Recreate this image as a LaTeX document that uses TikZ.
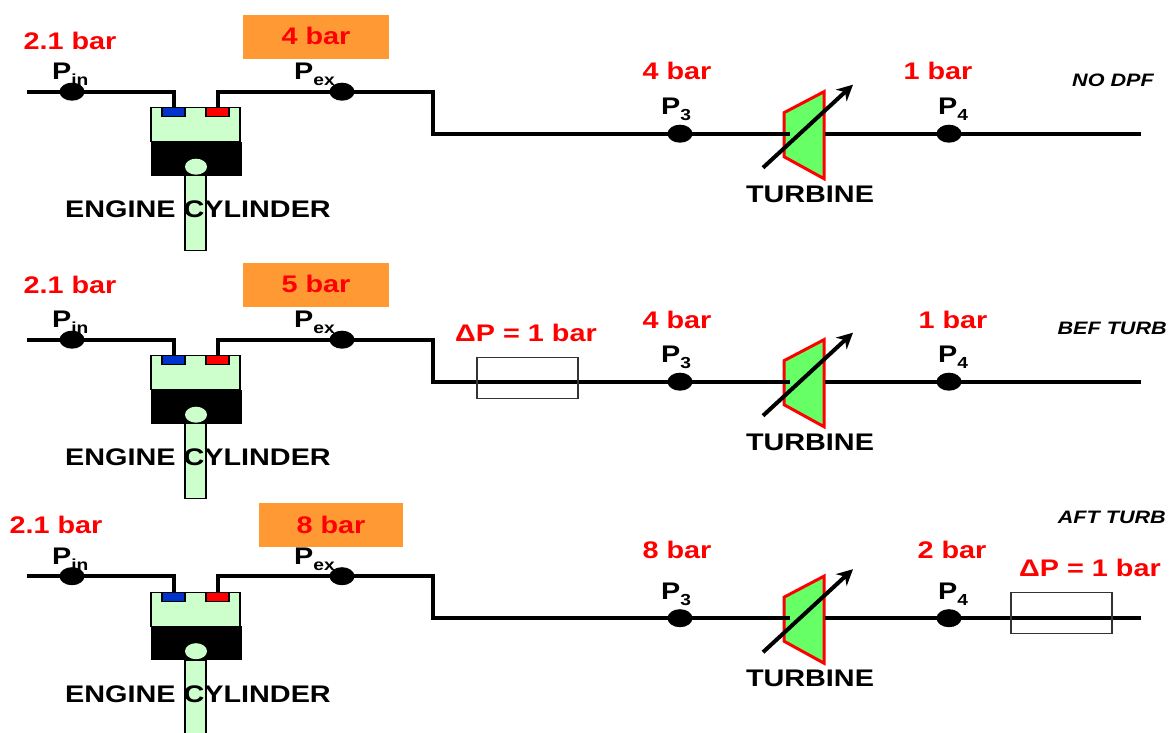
\documentclass[tikz,border=0pt]{standalone}
\usepackage{fontspec}
\setmainfont{Liberation Sans}[FakeStretch=1.2]
\usetikzlibrary{arrows.meta,shapes.geometric}
\definecolor{barred}{HTML}{FF0000}
\definecolor{boxorange}{HTML}{FF9933}
\definecolor{cylgreen}{HTML}{CCFFCC}
\definecolor{turbgreen}{HTML}{66FF66}
\definecolor{inblue}{HTML}{0033CC}
\newcommand{\psub}[2]{#1\raisebox{-6pt}{\fontsize{16}{16}\selectfont #2}}
\tikzset{
  pipe/.style={line width=4pt,line join=miter},
  dot/.style={ellipse,fill=black,minimum width=25pt,minimum height=18pt,inner sep=0pt},
  part/.style={draw=black,line width=1.2pt,inner sep=0pt},
  bartext/.style={text=barred,font=\bfseries\fontsize{24}{24}\selectfont,anchor=base,inner sep=0pt},
  blacktext/.style={text=black,font=\bfseries\fontsize{24}{24}\selectfont,anchor=base,inner sep=0pt},
  ptext/.style={blacktext,anchor=base west},
  casetext/.style={text=black,font=\bfseries\itshape\fontsize{18}{18}\selectfont,anchor=base east,inner sep=0pt},
  orangebox/.style={fill=boxorange,minimum width=146pt,minimum height=44pt,inner sep=0pt},
  filterbox/.style={draw=black!80,line width=1.2pt,minimum width=101pt,minimum height=41pt,inner sep=0pt},
}
\begin{document}
\begin{tikzpicture}[x=1pt,y=-1pt]
    \useasboundingbox (0,-0.7) rectangle (1171,732.3);
    \foreach \r/\dy in {a/0,b/248,c/484.5}{
        \begin{scope}[yshift=-\dy pt]
            % cylinder
            \node[part,fill=cylgreen,minimum width=21pt,minimum height=75pt] (\r rod) at (195.5,212.5) {};
            \node[part,fill=cylgreen,minimum width=89pt,minimum height=34pt] (\r body) at (195.5,124) {};
            \node[fill=black,minimum width=91pt,minimum height=34pt,inner sep=0pt] (\r head) at (196.5,158) {};
            \node[ellipse,fill=cylgreen,minimum width=22pt,minimum height=16pt,inner sep=0pt] (\r pin) at (196,166) {};
            \node[part,fill=inblue,minimum width=23pt,minimum height=9pt] (\r inv) at (173.5,111.5) {};
            \node[part,fill=barred,minimum width=23pt,minimum height=9pt] (\r exv) at (217.5,111.5) {};
            % turbine
            \draw[barred,line width=3pt,fill=turbgreen,line join=miter] (784,112) -- (824,91) -- (824,178) -- (784,156) -- cycle;
            % pipes
            \node[dot] (\r pi) at (72,91) {};
            \node[dot] (\r pe) at (342,91) {};
            \node[dot] (\r pt) at (680,133) {};
            \node[dot] (\r pf) at (949,133) {};
            \coordinate (\r start) at (27,91);
            \coordinate (\r knee) at (433,133);
            \coordinate (\r tin) at (790,133);
            \coordinate (\r tout) at (825,133);
            \coordinate (\r end) at (1141,133);
            \draw[pipe] (\r start) -- (\r pi.center) -| (\r inv.north);
            \draw[pipe] (\r exv.north) |- (\r pe.center) -| (\r knee) -- (\r pt.center) -- (\r tin);
            \draw[pipe] (\r tout) -- (\r pf.center) -- (\r end);
            \coordinate (\r arl) at (763,167);
            \coordinate (\r arr) at (853,84);
            \draw[line width=4pt,-{Stealth[length=16pt,width=16pt]}] (\r arl) -- (\r arr);
            % labels
            \node[ptext] (\r lpi) at (52,79) {\psub{P}{in}};
            \node[ptext] (\r lpe) at (294,79) {\psub{P}{ex}};
            \node[ptext] (\r lpt) at (661,114) {\psub{P}{3}};
            \node[ptext] (\r lpf) at (938,114) {\psub{P}{4}};
            \node[blacktext] (\r lcyl) at (198,217) {ENGINE CYLINDER};
            \node[blacktext] (\r ltur) at (810,201.5) {TURBINE};
        \end{scope}
    }
    % first case
    \node[bartext] (ain) at (70,49) {2.1 bar};
    \node[orangebox] (aorg) at (316,36) {};
    \node[bartext] (aex) at (316,44) {4 bar};
    \node[bartext] (athree) at (677,79) {4 bar};
    \node[bartext] (afour) at (938,79) {1 bar};
    \node[casetext] (acase) at (1154,86) {NO DPF};
    % second case
    \node[bartext] (bin) at (70,293) {2.1 bar};
    \node[orangebox] (borg) at (316,284) {};
    \node[bartext] (bex) at (316,292) {5 bar};
    \node[bartext] (bdp) at (526,341) {ΔP = 1 bar};
    \node[filterbox] (bfil) at (527.5,377.5) {};
    \node[bartext] (bthree) at (677,328) {4 bar};
    \node[bartext] (bfour) at (953,328) {1 bar};
    \node[casetext] (bcase) at (1167,334) {BEF TURB};
    % third case
    \node[bartext] (cin) at (56,533) {2.1 bar};
    \node[orangebox,minimum width=144pt] (corg) at (331,524.5) {};
    \node[bartext] (cex) at (331,533) {8 bar};
    \node[bartext] (cthree) at (677,558) {8 bar};
    \node[bartext] (cfour) at (952,558) {2 bar};
    \node[bartext] (cdp) at (1090,576) {ΔP = 1 bar};
    \node[filterbox] (cfil) at (1061.5,612.5) {};
    \node[casetext] (ccase) at (1166,523) {AFT TURB};
\end{tikzpicture}
\end{document}
